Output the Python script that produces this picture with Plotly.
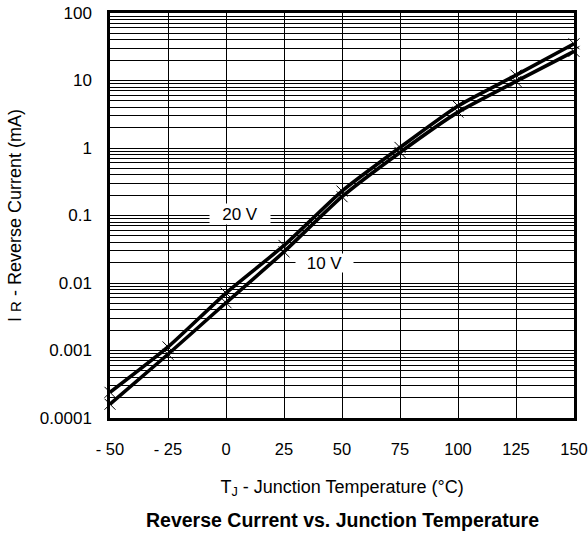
import plotly.graph_objects as go

# Data
temps = [-50, -25, 0, 25, 50, 75, 100, 125, 150]
ir_20v = [0.00024, 0.00113, 0.0071, 0.036, 0.23, 1.02, 4.2, 12.0, 35.0]
ir_10v = [0.00016, 0.00088, 0.0051, 0.029, 0.19, 0.86, 3.4, 9.7, 27.0]

x_ticks = [-50, -25, 0, 25, 50, 75, 100, 125, 150]
x_tick_labels = ["- 50", "- 25", "0", "25", "50", "75", "100", "125", "150"]
y_ticks = [0.0001, 0.001, 0.01, 0.1, 1, 10, 100]
y_tick_labels = ["0.0001", "0.001", "0.01", "0.1", "1", "10", "100"]
decades = [0.0001, 0.001, 0.01, 0.1, 1, 10]
minor_digits = [2, 3, 4, 5, 6, 7, 8, 9]
y_minor = [d * k for d in decades for k in minor_digits]

FONT = "Liberation Sans, Arial, Helvetica, sans-serif"

fig = go.Figure()
for name, vals in [("20 V", ir_20v), ("10 V", ir_10v)]:
    fig.add_trace(go.Scatter(
        x=temps, y=vals, name=name, mode="lines+markers",
        line=dict(color="black", width=3.6, shape="spline", smoothing=0.6),
        marker=dict(symbol="x-thin", size=11, color="black",
                    line=dict(color="black", width=1.0)),
        showlegend=False, cliponaxis=False,
    ))

fig.update_layout(
    width=588, height=534,
    margin=dict(l=110, r=14, t=13, b=116, autoexpand=False),
    paper_bgcolor="white", plot_bgcolor="white",
    font=dict(family=FONT, size=17, color="black"),
    xaxis=dict(
        range=[-50, 150], tickvals=x_ticks, ticktext=x_tick_labels,
        showgrid=True, gridcolor="black", gridwidth=1,
        zeroline=False, showline=True, linecolor="black", linewidth=2.5,
        mirror=True, ticks="", ticklabelstandoff=14, automargin=False,
        ticklabeloverflow="allow",
        tickfont=dict(size=16.5),
        title=dict(text="T<sub>J</sub> - Junction Temperature (°C)",
                   font=dict(size=18), standoff=24),
    ),
    yaxis=dict(
        type="log", range=[-4, 2], tickvals=y_ticks, ticktext=y_tick_labels,
        showgrid=True, gridcolor="black", gridwidth=1,
        zeroline=False, showline=True, linecolor="black", linewidth=2.5,
        mirror=True, ticks="", ticklabelstandoff=12, automargin=False,
        ticklabeloverflow="allow",
        tickfont=dict(size=17),
        minor=dict(showgrid=True, gridcolor="black", gridwidth=1,
                   tickmode="array", tickvals=y_minor),
        title=dict(text="I <span style='font-size:15px'>R</span> - Reverse Current (mA)",
                   font=dict(size=18), standoff=14),
    ),
    annotations=[
        dict(x=6.2, y=-0.98, xref="x", yref="y", text="20 V", showarrow=False,
             bgcolor="white", width=58, height=18, font=dict(size=17)),
        dict(x=42.3, y=-1.70, xref="x", yref="y", text="10 V", showarrow=False,
             bgcolor="white", width=55, height=16, font=dict(size=17)),
        dict(x=0.5, y=-0.252, xref="paper", yref="paper", yanchor="middle",
             text="<b>Reverse Current vs. Junction Temperature</b>",
             showarrow=False, font=dict(size=19.5)),
    ],
)

fig.write_html(
    "out.html",
    config={"displayModeBar": False},
    post_script="document.body.style.margin='0';document.body.style.overflow='hidden';",
)
